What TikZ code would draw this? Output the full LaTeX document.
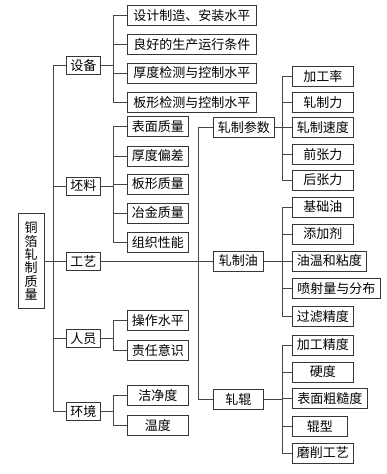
\documentclass[tikz,border=0pt]{standalone}
\usepackage{fontspec}
\setmainfont{Noto Sans CJK SC}
\usetikzlibrary{positioning,calc}
\definecolor{boxline}{RGB}{55,55,55}
\definecolor{linkline}{RGB}{70,70,70}

\begin{document}
\begin{tikzpicture}[
  x=1pt,y=-1pt,
  font=\fontsize{13}{13.5}\selectfont,
  cbox/.style={draw=boxline,fill=white,line width=0.8pt,inner sep=0pt,minimum height=20pt,align=center},
  leaf/.style={cbox,anchor=west},
  link/.style={draw=linkline,line width=0.8pt}
]
\useasboundingbox (0,0) rectangle (387,474);
% ---------------- root and first level ----------------
\node[cbox,minimum width=26pt,minimum height=95pt,font=\fontsize{13}{13.3}\selectfont] (root) at (31,261) {铜\\箔\\轧\\制\\质\\量};
\node[leaf,minimum width=34pt,minimum height=18pt] (sb) at (66,65.5) {设备};
\node[leaf,minimum width=34pt,minimum height=18pt] (pl) at (66,186) {坯料};
\node[leaf,minimum width=34pt,minimum height=18pt] (gy) at (66,261) {工艺};
\node[leaf,minimum width=34pt,minimum height=18pt] (ry) at (66,338.5) {人员};
\node[leaf,minimum width=34pt,minimum height=18pt] (hj) at (66,411.5) {环境};
\coordinate (t0) at (53,0);
\coordinate (b1) at (113,0);
\coordinate (b2) at (198,0);
\coordinate (b3) at (282,0);
\draw[link] (root.east) -- (gy.west);
\draw[link] (sb.west) -- (sb.west -| t0) -- (hj.west -| t0) -- (hj.west);
\draw[link] (pl.west) -- (pl.west -| t0);
\draw[link] (ry.west) -- (ry.west -| t0);
% ---------------- equipment ----------------
\node[leaf,minimum width=129pt] (sb1) at (127,15.5) {设计制造、安装水平};
\node[leaf,minimum width=129pt] (sb2) at (127,44.5) {良好的生产运行条件};
\node[leaf,minimum width=129pt] (sb3) at (127,73) {厚度检测与控制水平};
\node[leaf,minimum width=129pt] (sb4) at (127,102.5) {板形检测与控制水平};
\draw[link] (sb.east) -- (sb.east -| b1);
\draw[link] (sb1.west) -| (sb4.west -| b1) -- (sb4.west);
\draw[link] (sb2.west) -- (sb2.west -| b1);
\draw[link] (sb3.west) -- (sb3.west -| b1);
% ---------------- blank material ----------------
\node[leaf,minimum width=61pt] (pl1) at (127,126.5) {表面质量};
\node[leaf,minimum width=61pt] (pl2) at (127,156) {厚度偏差};
\node[leaf,minimum width=61pt] (pl3) at (127,184) {板形质量};
\node[leaf,minimum width=61pt] (pl4) at (127,213) {冶金质量};
\node[leaf,minimum width=61pt] (pl5) at (127,242.5) {组织性能};
\draw[link] (pl.east) -- (pl.east -| b1);
\draw[link] (pl1.west) -| (pl5.west -| b1) -- (pl5.west);
\draw[link] (pl2.west) -- (pl2.west -| b1);
\draw[link] (pl3.west) -- (pl3.west -| b1);
\draw[link] (pl4.west) -- (pl4.west -| b1);
% ---------------- staff and environment ----------------
\node[leaf,minimum width=61pt] (ry1) at (127,320.5) {操作水平};
\node[leaf,minimum width=61pt] (ry2) at (127,350.5) {责任意识};
\draw[link] (ry.east) -- (ry.east -| b1);
\draw[link] (ry1.west) -| (ry2.west -| b1) -- (ry2.west);
\node[leaf,minimum width=61pt] (hj1) at (127,395.5) {洁净度};
\node[leaf,minimum width=61pt] (hj2) at (127,425.5) {温度};
\draw[link] (hj.east) -- (hj.east -| b1);
\draw[link] (hj1.west) -| (hj2.west -| b1) -- (hj2.west);
% ---------------- process ----------------
\node[leaf,minimum width=61pt] (zc) at (213,127.5) {轧制参数};
\node[leaf,minimum width=50pt] (zy) at (213,261) {轧制油};
\node[leaf,minimum width=50pt] (zg) at (213,399.5) {轧辊};
\draw[link] (gy.east) -- (zy.west);
\draw[link] (zc.west) -| (zg.west -| b2) -- (zg.west);
% rolling parameters
\node[leaf,minimum width=61pt] (zc1) at (292,76.5) {加工率};
\node[leaf,minimum width=61pt] (zc2) at (292,102.5) {轧制力};
\node[leaf,minimum width=61pt] (zc3) at (292,127.5) {轧制速度};
\node[leaf,minimum width=61pt] (zc4) at (292,154.5) {前张力};
\node[leaf,minimum width=61pt] (zc5) at (292,180) {后张力};
\draw[link] (zc.east) -- (zc3.west);
\draw[link] (zc1.west) -| (zc5.west -| b3) -- (zc5.west);
\draw[link] (zc2.west) -- (zc2.west -| b3);
\draw[link] (zc4.west) -- (zc4.west -| b3);
% rolling oil
\node[leaf,minimum width=61pt] (zy1) at (292,207) {基础油};
\node[leaf,minimum width=61pt] (zy2) at (292,234) {添加剂};
\node[leaf,minimum width=74pt] (zy3) at (292,261) {油温和粘度};
\node[leaf,minimum width=88pt] (zy4) at (292,288.5) {喷射量与分布};
\node[leaf,minimum width=61pt] (zy5) at (292,316.5) {过滤精度};
\draw[link] (zy.east) -- (zy3.west);
\draw[link] (zy1.west) -| (zy5.west -| b3) -- (zy5.west);
\draw[link] (zy2.west) -- (zy2.west -| b3);
\draw[link] (zy4.west) -- (zy4.west -| b3);
% rolls
\node[leaf,minimum width=61pt] (zg1) at (292,345) {加工精度};
\node[leaf,minimum width=61pt] (zg2) at (292,372) {硬度};
\node[leaf,minimum width=75pt] (zg3) at (292,398.5) {表面粗糙度};
\node[leaf,minimum width=55pt] (zg4) at (292,426.5) {辊型};
\node[leaf,minimum width=61pt] (zg5) at (292,453) {磨削工艺};
\draw[link] (zg.east) -- (zg.east -| b3);
\draw[link] (zg1.west) -| (zg5.west -| b3) -- (zg5.west);
\draw[link] (zg2.west) -- (zg2.west -| b3);
\draw[link] (zg3.west) -- (zg3.west -| b3);
\draw[link] (zg4.west) -- (zg4.west -| b3);
\end{tikzpicture}
\end{document}
